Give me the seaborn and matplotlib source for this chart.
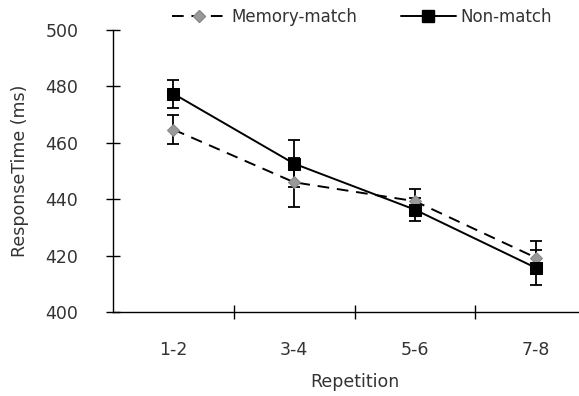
import pandas as pd
import seaborn as sns
import matplotlib.pyplot as plt

# data
repetition = ['1-2', '3-4', '5-6', '7-8']
memory_match = [464.7, 446.0, 439.3, 419.3]
memory_err = [5.0, 8.6, 4.3, 6.0]
non_match = [477.4, 452.6, 436.3, 415.7]
non_err = [5.0, 8.3, 4.0, 6.2]

df = pd.DataFrame({
    'Repetition': repetition * 2,
    'rt': memory_match + non_match,
    'err': memory_err + non_err,
    'cond': ['Memory-match'] * 4 + ['Non-match'] * 4,
})

sns.set_style('white')
plt.rcParams['font.family'] = ['DejaVu Sans']
txt = '#333333'

fig = plt.figure(figsize=(5.79, 3.96), dpi=100)
ax = fig.add_axes([113 / 579, 84 / 396, (596 - 113) / 579, (312 - 30) / 396])

palette = {'Memory-match': 'black', 'Non-match': 'black'}
sns.lineplot(data=df, x='Repetition', y='rt', hue='cond', style='cond',
             palette=palette, markers={'Memory-match': 'D', 'Non-match': 's'},
             dashes={'Memory-match': (6, 4), 'Non-match': ''},
             linewidth=1.4, legend=False, ax=ax, sort=False)

# marker colours / sizes
lines = ax.get_lines()
lines[0].set_markerfacecolor('#999999')
lines[0].set_markeredgecolor('#888888')
lines[0].set_markersize(6)
lines[1].set_markerfacecolor('black')
lines[1].set_markeredgecolor('black')
lines[1].set_markersize(8)

for cond, sub in df.groupby('cond'):
    ax.errorbar(range(4), sub['rt'], yerr=sub['err'], fmt='none',
                ecolor='black', elinewidth=1.3, capsize=4, capthick=1.3, zorder=1)

ax.set_xlim(-0.5, 3.5)
ax.set_ylim(400, 500)
ax.set_yticks(range(400, 501, 20))
ax.set_xticks(range(4))
ax.set_xticklabels(repetition)
ax.set_xticks([0.5, 1.5, 2.5], minor=True)
ax.tick_params(axis='x', which='major', length=0, labelsize=12.5, pad=21, labelcolor=txt)
ax.tick_params(axis='x', which='minor', bottom=True, direction='inout', length=10,
               width=1, color='black')
ax.tick_params(axis='y', left=True, direction='inout', length=10, width=1, color='black',
               labelsize=12.5, pad=20, labelcolor=txt)
for s in ['top', 'right']:
    ax.spines[s].set_visible(False)
for s in ['left', 'bottom']:
    ax.spines[s].set_color('black')
    ax.spines[s].set_linewidth(1)

ax.set_xlabel('Repetition', fontsize=12.5, color=txt, labelpad=10)
ax.set_ylabel('ResponseTime (ms)', fontsize=12.5, color=txt, labelpad=12)

h = [plt.Line2D([], [], color='black', ls=(0, (6, 4)), marker='D', markersize=6,
                markerfacecolor='#999999', markeredgecolor='#888888', lw=1.4),
     plt.Line2D([], [], color='black', ls='-', marker='s', markersize=8,
                markerfacecolor='black', lw=1.4)]
fig.legend(h, ['Memory-match', 'Non-match'], loc='center', bbox_to_anchor=(0.625, 0.958),
           ncol=2, frameon=False, fontsize=12, handlelength=3.3, columnspacing=2.6,
           handletextpad=0.3, labelcolor=txt)

fig.savefig('out.png', dpi=100)
